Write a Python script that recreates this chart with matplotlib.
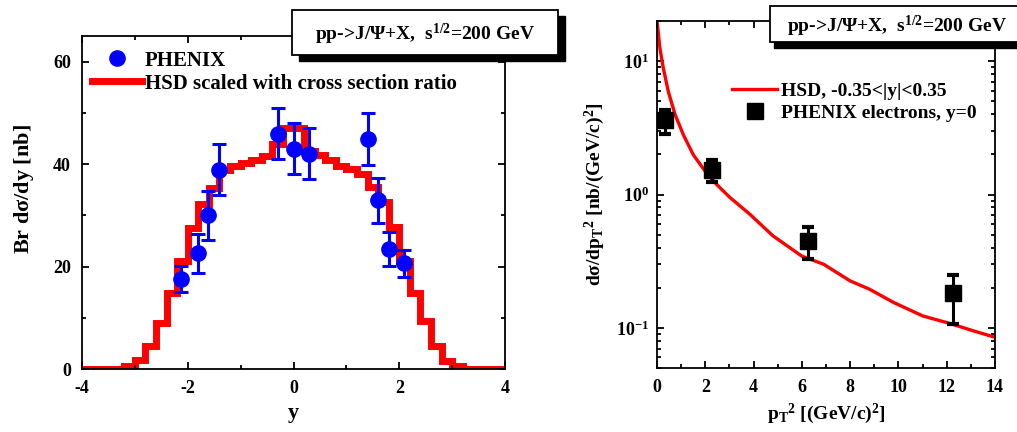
import matplotlib
matplotlib.use("Agg")
import matplotlib.pyplot as plt
from matplotlib.patches import Rectangle
from matplotlib.ticker import MultipleLocator, LogLocator, NullFormatter
import numpy as np

plt.rcParams['font.family'] = ['Liberation Serif', 'DejaVu Serif']
plt.rcParams['font.weight'] = 'bold'
plt.rcParams['axes.labelweight'] = 'bold'
plt.rcParams['axes.unicode_minus'] = False
plt.rcParams['mathtext.fontset'] = 'custom'
plt.rcParams['mathtext.rm'] = 'Liberation Serif:bold'
plt.rcParams['mathtext.bf'] = 'Liberation Serif:bold'
plt.rcParams['mathtext.it'] = 'Liberation Serif:bold:italic'
plt.rcParams['mathtext.default'] = 'rm'

# left panel: HSD rapidity histogram (bin edges, bin heights)
hsd_y_edges = np.round(np.arange(-4.0, 4.01, 0.2), 2)
hsd_y_vals = [0, 0, 0, 0,
              0.6, 1.8, 4.5, 9.0, 14.8, 21.0, 27.5, 32.3, 35.3, 38.8,
              39.6, 40.2, 40.8, 41.5, 44.0, 47.0, 47.0, 42.5, 41.8, 40.8,
              39.7, 39.0, 38.0, 35.5, 32.5, 27.8, 21.0, 14.8, 9.3, 4.4,
              1.6, 0.5,
              0, 0, 0, 0]

# left panel: PHENIX points
phx_y = [-2.13, -1.81, -1.62, -1.41, -0.3, 0.0, 0.3, 1.4, 1.6, 1.8, 2.09]
phx_val = [17.6, 22.6, 30.0, 38.9, 45.9, 43.0, 42.0, 44.9, 32.9, 23.5, 20.6]
phx_err = [2.6, 3.8, 4.8, 5.0, 5.0, 5.0, 5.0, 5.0, 4.4, 3.3, 2.7]

# right panel: HSD pT^2 spectrum
hsd_pt2 = [0.0, 0.12, 0.26, 0.47, 0.75, 1.09, 1.5, 2.0, 2.47, 3.02, 3.44,
           3.85, 4.8, 6.0, 6.9, 8.0, 8.8, 9.8, 11.0, 12.2, 13.1, 14.0]
hsd_dsig = [20, 12.5, 8.9, 5.9, 3.97, 2.81, 1.99, 1.49, 1.19, 0.95, 0.82,
            0.71, 0.49, 0.345, 0.30, 0.225, 0.195, 0.155, 0.123, 0.107,
            0.095, 0.085]

# right panel: PHENIX electrons
ele_pt2 = [0.33, 2.29, 6.24, 12.25]
ele_val = [3.64, 1.52, 0.448, 0.182]
ele_lo = [2.86, 1.24, 0.330, 0.107]
ele_hi = [4.32, 1.83, 0.569, 0.249]

box_text = r'pp->J/$\Psi$+X,  s$^{1/2}$=200 GeV'

fig = plt.figure(figsize=(10.17, 4.32), dpi=100)
W, H = 1017.0, 432.0

def px_axes(x0, y0, x1, y1):
    return fig.add_axes([x0 / W, 1 - y1 / H, (x1 - x0) / W, (y1 - y0) / H])

ax1 = px_axes(82, 36, 505, 369)
ax2 = px_axes(657, 21, 995, 368)

for ax in (ax1, ax2):
    ax.tick_params(which='both', direction='in', top=True, right=True,
                   width=1.3, labelsize=13)
    ax.tick_params(which='major', length=5)
    ax.tick_params(which='minor', length=3)
    for s in ax.spines.values():
        s.set_linewidth(1.3)

# ---- left
ax1.stairs(hsd_y_vals, hsd_y_edges, color='red', lw=5,
           label='HSD scaled with cross section ratio')
ax1.errorbar(phx_y, phx_val, yerr=phx_err, fmt='none', ecolor='blue',
             elinewidth=2.2, capsize=5, capthick=2.2)
ax1.plot(phx_y, phx_val, 'o', color='blue', ms=11, label='PHENIX')
ax1.set_xlim(-4, 4)
ax1.set_ylim(0, 65)
ax1.xaxis.set_major_locator(MultipleLocator(2))
ax1.xaxis.set_minor_locator(MultipleLocator(1))
ax1.yaxis.set_major_locator(MultipleLocator(20))
ax1.yaxis.set_minor_locator(MultipleLocator(10))
ax1.tick_params(axis='y', pad=8)
ax1.tick_params(axis='x', pad=8)
ax1.set_xlabel('y', fontsize=16, labelpad=4)
ax1.set_ylabel(r'Br d$\sigma$/dy [nb]', fontsize=16)
ax1.yaxis.set_label_coords(-0.108, 0.54)
h, l = ax1.get_legend_handles_labels()
ax1.legend(h[::-1], l[::-1], loc='upper left', bbox_to_anchor=(-0.012, 1.0),
           frameon=False, fontsize=15, handlelength=2.4, handletextpad=0.15,
           labelspacing=0.15, borderaxespad=0.3)

# ---- right
ax2.plot(hsd_pt2, hsd_dsig, color='red', lw=2.4,
         label='HSD, -0.35<|y|<0.35')
ele_err = [np.array(ele_val) - np.array(ele_lo),
           np.array(ele_hi) - np.array(ele_val)]
ax2.errorbar(ele_pt2, ele_val, yerr=ele_err, fmt='none', ecolor='black',
             elinewidth=2.2, capsize=4, capthick=3)
ax2.plot(ele_pt2, ele_val, 's', color='black', ms=11,
         label='PHENIX electrons, y=0')
ax2.set_yscale('log')
ax2.set_xlim(0, 14)
ax2.set_ylim(0.05, 20)
ax2.xaxis.set_major_locator(MultipleLocator(2))
ax2.xaxis.set_minor_locator(MultipleLocator(1))
ax2.yaxis.set_major_locator(LogLocator(base=10))
ax2.yaxis.set_minor_locator(LogLocator(base=10, subs=np.arange(2, 10)))
ax2.yaxis.set_minor_formatter(NullFormatter())
ax2.tick_params(axis='y', pad=6)
ax2.tick_params(axis='x', pad=8)
ax2.set_xlabel(r'p$_{\rm T}$$^2$ [(GeV/c)$^2$]', fontsize=14, labelpad=4)
ax2.set_ylabel(r'd$\sigma$/dp$_{\rm T}$$^2$ [nb/(GeV/c)$^2$]', fontsize=14,
               labelpad=6)
ax2.legend(loc='upper left', bbox_to_anchor=(0.2, 0.845), frameon=False,
           fontsize=14, handlelength=2.3, handletextpad=0.2,
           labelspacing=0.2, borderaxespad=0.0)

# ---- title boxes with drop shadow
def shadow_box(x0, y0, x1, y1, cx, cy, dx=7, dy=6):
    fig.patches.append(Rectangle(((x0 + dx) / W, 1 - (y1 + dy) / H),
                                 (x1 - x0) / W, (y1 - y0) / H,
                                 transform=fig.transFigure, fc='black',
                                 ec='black', zorder=10))
    fig.patches.append(Rectangle((x0 / W, 1 - y1 / H), (x1 - x0) / W,
                                 (y1 - y0) / H, transform=fig.transFigure,
                                 fc='white', ec='black', lw=1.3, zorder=11))
    fig.text(cx / W, 1 - cy / H, box_text, ha='center', va='center',
             fontsize=14, zorder=12)

shadow_box(292, 10, 558, 55, 425, 34)
shadow_box(770, 6, 1030, 42, 897, 26, dx=4, dy=6)

fig.savefig('out.png', dpi=100)
